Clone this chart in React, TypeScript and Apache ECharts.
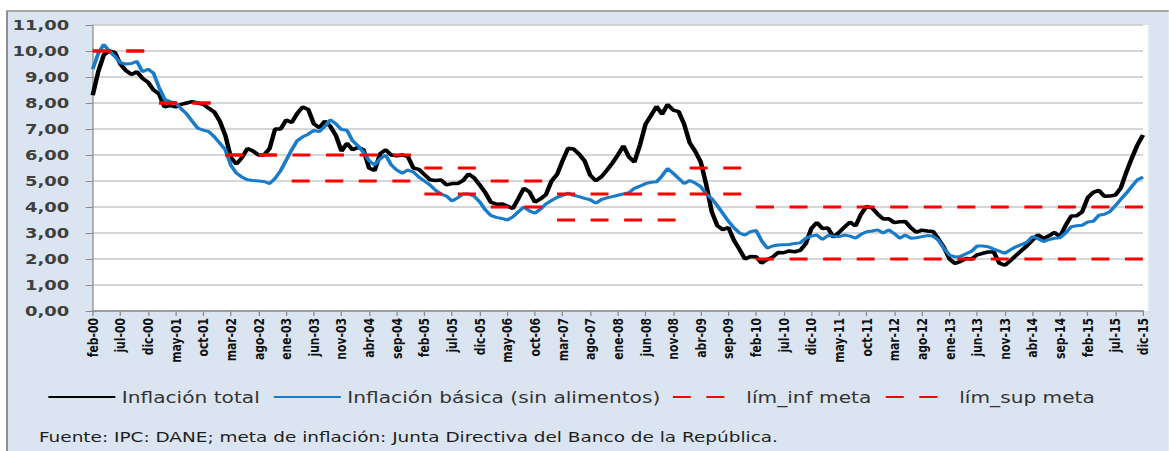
import { useEffect, useRef } from 'react';
import * as echarts from 'echarts';

// ---------- data ----------
const MONTHS = ['ene', 'feb', 'mar', 'abr', 'may', 'jun', 'jul', 'ago', 'sep', 'oct', 'nov', 'dic'];
const FIRST_YEAR = 2000;
const FIRST_MONTH = 1; // feb
const N_MONTHS = 191; // feb-00 .. dic-15

const categories: string[] = [];
for (let i = 0; i < N_MONTHS; i++) {
  const k = FIRST_MONTH + i;
  const m = k % 12;
  const y = FIRST_YEAR + Math.floor(k / 12);
  categories.push(`${MONTHS[m]}-${String(y % 100).padStart(2, '0')}`);
}

const inflacionTotal = [
  8.3, 9.2, 9.85, 10.0, 9.95, 9.5, 9.25, 9.1, 9.2, 8.95, 8.8,
  8.5, 8.35, 7.85, 7.9, 7.85, 7.95, 8.0, 8.05, 8.0, 7.95, 7.8, 7.65,
  7.3, 6.75, 5.9, 5.65, 5.9, 6.25, 6.15, 6.0, 6.0, 6.25, 7.0, 7.0,
  7.35, 7.25, 7.6, 7.85, 7.75, 7.2, 7.05, 7.3, 7.1, 6.75, 6.15, 6.45,
  6.2, 6.3, 6.2, 5.5, 5.4, 6.05, 6.2, 6.0, 5.97, 6.0, 5.95, 5.5,
  5.45, 5.25, 5.05, 5.02, 5.04, 4.85, 4.9, 4.9, 5.02, 5.27, 5.12, 4.85,
  4.56, 4.19, 4.11, 4.12, 4.04, 3.94, 4.32, 4.72, 4.58, 4.19, 4.31, 4.48,
  5.0, 5.25, 5.78, 6.26, 6.23, 6.03, 5.77, 5.22, 5.01, 5.16, 5.41, 5.69,
  6.0, 6.35, 5.93, 5.73, 6.39, 7.18, 7.52, 7.87, 7.57, 7.94, 7.73, 7.67,
  7.18, 6.47, 6.14, 5.73, 4.85, 3.81, 3.28, 3.13, 3.21, 2.72, 2.37, 2.0,
  2.1, 2.09, 1.84, 1.98, 2.07, 2.25, 2.24, 2.31, 2.28, 2.33, 2.59, 3.17,
  3.4, 3.17, 3.19, 2.84, 3.02, 3.23, 3.42, 3.27, 3.73, 4.02, 3.96, 3.73,
  3.54, 3.55, 3.4, 3.43, 3.44, 3.2, 3.03, 3.11, 3.08, 3.06, 2.77, 2.44,
  2.0, 1.83, 1.91, 2.02, 2.0, 2.16, 2.22, 2.27, 2.27, 1.84, 1.76, 1.94,
  2.13, 2.32, 2.51, 2.72, 2.93, 2.79, 2.89, 3.02, 2.86, 3.29, 3.65, 3.66,
  3.82, 4.36, 4.56, 4.64, 4.41, 4.42, 4.46, 4.74, 5.35, 5.89, 6.39, 6.77,
];

const inflacionBasica = [
  9.3, 9.9, 10.25, 10.0, 9.8, 9.55, 9.5, 9.52, 9.6, 9.2, 9.3,
  9.15, 8.6, 8.15, 8.05, 8.0, 7.78, 7.58, 7.3, 7.03, 6.96, 6.9, 6.7,
  6.45, 6.2, 5.6, 5.3, 5.15, 5.05, 5.02, 5.0, 4.98, 4.9, 5.1, 5.4,
  5.8, 6.2, 6.55, 6.7, 6.8, 6.95, 6.9, 7.1, 7.35, 7.2, 6.98, 6.95,
  6.55, 6.35, 6.1, 5.78, 5.62, 5.85, 6.0, 5.62, 5.42, 5.3, 5.42, 5.35,
  5.15, 5.0, 4.85, 4.65, 4.5, 4.42, 4.23, 4.35, 4.5, 4.5, 4.42, 4.2,
  3.9, 3.68, 3.6, 3.56, 3.5, 3.62, 3.82, 4.0, 3.85, 3.76, 3.92, 4.12,
  4.25, 4.37, 4.45, 4.53, 4.45, 4.4, 4.33, 4.28, 4.15, 4.28, 4.35, 4.4,
  4.45, 4.5, 4.55, 4.72, 4.8, 4.9, 4.95, 4.97, 5.2, 5.48, 5.3, 5.1,
  4.9, 5.02, 4.92, 4.78, 4.5, 4.32, 4.05, 3.75, 3.45, 3.2, 3.0, 2.92,
  3.05, 3.1, 2.7, 2.42, 2.5, 2.54, 2.55, 2.56, 2.6, 2.62, 2.8, 2.88,
  2.92, 2.75, 2.9, 2.88, 2.86, 2.92, 2.88, 2.8, 2.95, 3.05, 3.08, 3.12,
  3.0, 3.12, 2.98, 2.8, 2.92, 2.8, 2.82, 2.86, 2.9, 2.88, 2.72, 2.4,
  2.15, 2.08, 2.1, 2.2, 2.3, 2.5, 2.5, 2.47, 2.38, 2.3, 2.22, 2.35,
  2.47, 2.55, 2.65, 2.86, 2.78, 2.67, 2.75, 2.8, 2.82, 3.0, 3.24, 3.28,
  3.3, 3.42, 3.45, 3.68, 3.72, 3.82, 4.05, 4.3, 4.53, 4.8, 5.05, 5.15,
];

// yearly inflation targets 2000..2015
const metaInfAnual = [10, 8, 6, 5, 5, 4.5, 4, 3.5, 3.5, 4.5, 2, 2, 2, 2, 2, 2];
const metaSupAnual = [10, 8, 6, 6, 6, 5.5, 5, 4.5, 4.5, 5.5, 4, 4, 4, 4, 4, 4];

const SERIES_NAMES = ['Inflación total', 'Inflación básica (sin alimentos)', 'lím_inf meta', 'lím_sup meta'];
const FOOTER = 'Fuente: IPC: DANE; meta de inflación: Junta Directiva del Banco de la República.';

// monthly target lines: a new target starts after January (gap when it changes)
function expandTarget(anual: number[]): (number | null)[] {
  const out: (number | null)[] = [];
  for (let i = 0; i < N_MONTHS; i++) {
    const k = FIRST_MONTH + i;
    const m = k % 12;
    const yi = Math.floor(k / 12);
    if (m === 0 && yi > 0 && anual[yi] !== anual[yi - 1]) out.push(null);
    else out.push(anual[yi]);
  }
  return out;
}
const metaInf = expandTarget(metaInfAnual);
const metaSup = expandTarget(metaSupAnual);

// ---------- layout ----------
const S = 1.3; // horizontal stretch of the reference image
const W = 1169 / S;
const H = 451;
const X = (px: number) => px / S;
const FONT = 'DejaVu Sans';

export default function App() {
  const ref = useRef<HTMLDivElement>(null);
  useEffect(() => {
    const chart = echarts.init(ref.current!, null, { renderer: 'svg' });
    const legendBase = {
      orient: 'horizontal',
      top: 389,
      padding: 0,
      itemHeight: 14,
      itemWidth: 51.5,
      selectedMode: false,
      itemStyle: { opacity: 0 },
      textStyle: { fontSize: 15.5, color: '#333333', fontFamily: FONT },
    };
    chart.setOption({
      animation: false,
      backgroundColor: 'transparent',
      textStyle: { fontFamily: FONT },
      graphic: [
        {
          type: 'rect',
          z: -10,
          silent: true,
          shape: { x: X(7), y: 11, width: W + 20, height: H + 20 },
          style: { fill: '#dbe5f1', stroke: '#8e8e8e', lineWidth: 1.5 },
        },
        {
          type: 'rect',
          z: -5,
          silent: true,
          shape: { x: X(92.7), y: 25, width: X(1148.3 - 92.7), height: 286 },
          style: { fill: '#ffffff' },
        },
        {
          type: 'text',
          silent: true,
          x: X(39),
          y: 437,
          style: {
            text: FOOTER,
            fontSize: 14.2,
            fontFamily: FONT,
            fill: '#1f1f1f',
            verticalAlign: 'middle',
          },
        },
      ],
      grid: { left: X(92.7), right: W - X(1143.3), top: 25, bottom: H - 311 },
      legend: [
        { ...legendBase, data: [SERIES_NAMES[0]], left: 36.2 },
        { ...legendBase, data: [SERIES_NAMES[1]], left: 209.7 },
        { ...legendBase, data: [SERIES_NAMES[2]], left: 516.6 },
        { ...legendBase, data: [SERIES_NAMES[3]], left: 680.4 },
      ],
      xAxis: {
        type: 'category',
        data: categories,
        boundaryGap: false,
        axisLine: { lineStyle: { color: '#8c8c8c', width: 1.5 } },
        axisTick: { interval: 4, length: 5, lineStyle: { color: '#8c8c8c' } },
        axisLabel: {
          interval: 4,
          rotate: 90,
          fontSize: 10.8,
          fontWeight: 'bold',
          color: '#111111',
          margin: 7,
          fontFamily: FONT,
        },
        splitLine: { show: false },
      },
      yAxis: {
        type: 'value',
        min: 0,
        max: 11,
        interval: 1,
        axisLine: { show: true, lineStyle: { color: '#8c8c8c', width: 1 } },
        axisTick: { show: true, length: X(7), lineStyle: { color: '#8c8c8c' } },
        axisLabel: {
          formatter: (v: number) => v.toFixed(2).replace('.', ','),
          fontSize: 13.8,
          fontWeight: 'bold',
          color: '#404040',
          margin: 18,
          fontFamily: FONT,
        },
        splitLine: { lineStyle: { color: '#c8c8c8', width: 1.6 } },
      },
      series: [
        {
          name: SERIES_NAMES[0],
          type: 'line',
          data: inflacionTotal,
          symbol: 'none',
          silent: true,
          lineStyle: { color: '#000000', width: 3.5 },
          itemStyle: { color: '#000000' },
        },
        {
          name: SERIES_NAMES[1],
          type: 'line',
          data: inflacionBasica,
          symbol: 'none',
          silent: true,
          lineStyle: { color: '#1a7cc8', width: 3 },
          itemStyle: { color: '#1a7cc8' },
        },
        {
          name: SERIES_NAMES[2],
          type: 'line',
          data: metaInf,
          symbol: 'none',
          silent: true,
          lineStyle: { color: '#ff0000', width: 3, type: [13.8, 12] },
          itemStyle: { color: '#ff0000' },
        },
        {
          name: SERIES_NAMES[3],
          type: 'line',
          data: metaSup,
          symbol: 'none',
          silent: true,
          lineStyle: { color: '#ff0000', width: 3, type: [13.8, 12] },
          itemStyle: { color: '#ff0000' },
        },
      ],
    });
    return () => chart.dispose();
  }, []);

  return (
    <div
      style={{
        position: 'fixed',
        left: 0,
        top: 0,
        width: 1169,
        height: H,
        overflow: 'hidden',
        background: '#ffffff',
      }}
    >
      <div
        ref={ref}
        style={{ width: W, height: H, transform: `scaleX(${S})`, transformOrigin: '0 0' }}
      />
    </div>
  );
}
